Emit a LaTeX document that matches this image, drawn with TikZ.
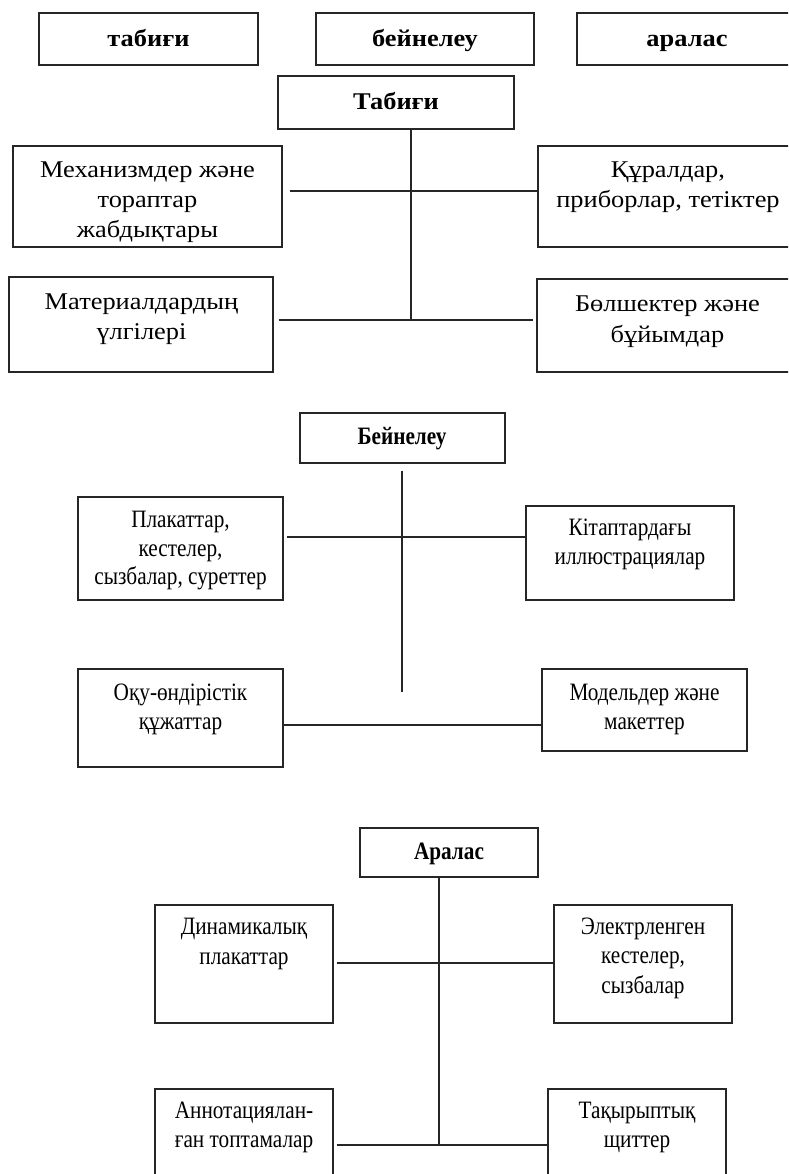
\documentclass[tikz,border=0pt]{standalone}
\usepackage{fontspec}
\setmainfont{Liberation Serif}
\newfontfamily\fwide[FakeStretch=1.1]{Liberation Serif}
\newfontfamily\fnarrow[FakeStretch=0.85]{Liberation Serif}
\tikzset{
  box/.style={draw=black!85, line width=1.4pt, rectangle, inner sep=0pt},
  conn/.style={draw=black!85, line width=1.3pt},
  txtA/.style={anchor=base, align=center, inner sep=0pt, font=\fwide\fontsize{24}{30.3}\selectfont},
  hdA/.style={anchor=base, align=center, inner sep=0pt, font=\fwide\bfseries\fontsize{24}{30}\selectfont},
  txtB/.style={anchor=base, align=center, inner sep=0pt, font=\fnarrow\fontsize{25}{28.3}\selectfont},
  txtC/.style={anchor=base, align=center, inner sep=0pt, font=\fnarrow\fontsize{25}{29.2}\selectfont},
  hdB/.style={anchor=base, align=center, inner sep=0pt, font=\fnarrow\bfseries\fontsize{25}{30}\selectfont},
}
% box from (x1,y1) to (x2,y2) in pixel coords, y downwards
\newcommand{\mybox}[5]{%
  \node[box, minimum width={(#4)-(#2)}, minimum height={(#5)-(#3)}] (#1)
    at ({((#2)+(#4))/2},{((#3)+(#5))/2}) {};}
\begin{document}
\begin{tikzpicture}[x=1pt,y=-1pt]
\useasboundingbox (0,0) rectangle (788,1174);
\clip (0,0) rectangle (788,1174);
\fill[white] (0,0) rectangle (788,1174);

% top row
\mybox{t1}{39}{13}{258}{65}
\mybox{t2}{316}{13}{534}{65}
\mybox{t3}{577}{13}{797}{65}
\node[hdA] (t1t) at (148.5,47) {табиғи};
\node[hdA] (t2t) at (425,47) {бейнелеу};
\node[hdA] (t3t) at (687,47) {аралас};

% section 1 (text nodes are placed at the baseline of their last line)
\mybox{h1}{278}{76}{514}{129}
\node[hdA] (h1t) at (396,110) {Табиғи};
\mybox{a1}{13}{146}{282}{247}
\mybox{a2}{538}{146}{797}{247}
\mybox{a3}{9}{277}{273}{372}
\mybox{a4}{537}{279}{797}{372}
\node[txtA] (a1t) at (147.5,238) {Механизмдер және\\тораптар\\жабдықтары};
\node[txtA] (a2t) at (668,208) {Құралдар,\\приборлар, тетіктер};
\node[txtA] (a3t) at (141.5,339.5) {Материалдардың\\үлгілері};
\node[txtA] (a4t) at (667.5,342) {Бөлшектер және\\бұйымдар};
\coordinate (v1a) at (411,191);
\coordinate (v1b) at (411,320);
\draw[conn] (v1b |- h1.south) -- (v1b);
\draw[conn, shorten <=7pt] (a1.east |- v1a) -- (a2.west |- v1a);
\draw[conn, shorten <=5pt, shorten >=3pt] (a3.east |- v1b) -- (a4.west |- v1b);

% section 2
\mybox{h2}{300}{413}{505}{463}
\node[hdB] (h2t) at (402,444) {Бейнелеу};
\mybox{b1}{78}{497}{283}{600}
\mybox{b2}{526}{506}{734}{600}
\mybox{b3}{78}{669}{283}{767}
\mybox{b4}{542}{669}{747}{751}
\node[txtB] (b1t) at (180.5,584.5) {Плакаттар,\\кестелер,\\сызбалар, суреттер};
\node[txtB] (b2t) at (630,564) {Кітаптардағы\\иллюстрациялар};
\node[txtB] (b3t) at (180.5,729) {Оқу-өндірістік\\құжаттар};
\node[txtB] (b4t) at (644.5,729) {Модельдер және\\макеттер};
\coordinate (v2a) at (402,537);
\coordinate (v2b) at (402,692);
\coordinate (v2c) at (402,725);
\draw[conn, shorten <=7pt] (v2b |- h2.south) -- (v2b);
\draw[conn, shorten <=3pt] (b1.east |- v2a) -- (b2.west |- v2a);
\draw[conn] (b3.east |- v2c) -- (b4.west |- v2c);

% section 3
\mybox{h3}{360}{828}{538}{877}
\node[hdB] (h3t) at (449,859) {Аралас};
\mybox{c1}{155}{905}{333}{1023}
\mybox{c2}{554}{905}{732}{1023}
\mybox{c3}{155}{1089}{333}{1200}
\mybox{c4}{548}{1089}{726}{1200}
\node[txtC] (c1t) at (244,964) {Динамикалық\\плакаттар};
\node[txtC] (c2t) at (643,993) {Электрленген\\кестелер,\\сызбалар};
\node[txtC] (c3t) at (244,1147.5) {Аннотациялан-\\ған топтамалар};
\node[txtC] (c4t) at (637,1147.5) {Тақырыптық\\щиттер};
\coordinate (v3a) at (439,963);
\coordinate (v3b) at (439,1145);
\draw[conn] (v3b |- h3.south) -- (v3b);
\draw[conn, shorten <=3pt] (c1.east |- v3a) -- (c2.west |- v3a);
\draw[conn, shorten <=3pt] (c3.east |- v3b) -- (c4.west |- v3b);
\end{tikzpicture}
\end{document}
